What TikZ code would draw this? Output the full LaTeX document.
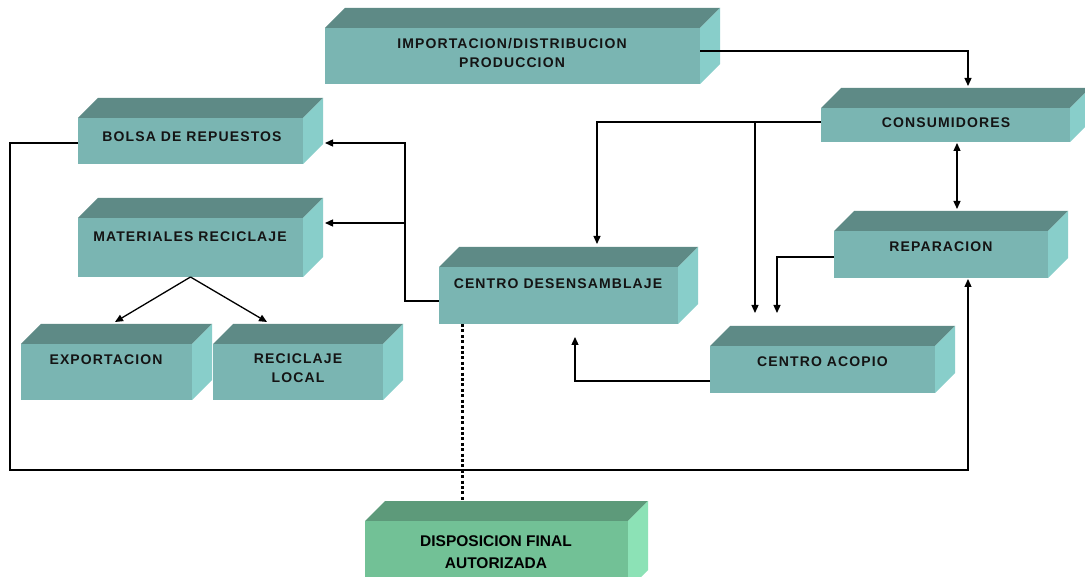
\documentclass[tikz,border=0pt]{standalone}
\usepackage{fontspec}
\setmainfont{Liberation Sans}
\newfontfamily\lblfont[LetterSpace=8]{Liberation Sans}
\usetikzlibrary{arrows.meta}
\definecolor{fr}{RGB}{122,181,178}
\definecolor{tp}{RGB}{94,138,134}
\definecolor{sd}{RGB}{136,206,202}
\definecolor{gfr}{RGB}{114,193,150}
\definecolor{gtp}{RGB}{93,154,122}
\definecolor{gsd}{RGB}{140,226,182}
\newcommand\cubebox[6]{%
  \fill[#6tp] (#2,#3) -- (#2+20,#3-20) -- (#4+20,#3-20) -- (#4,#3) -- cycle;
  \fill[#6sd] (#4,#3) -- (#4+20,#3-20) -- (#4+20,#5-20) -- (#4,#5) -- cycle;
  \pgfmathsetmacro\cw{#4-#2}\pgfmathsetmacro\ch{#5-#3}%
  \node[fill=#6fr, inner sep=0pt, outer sep=0pt, anchor=north west,
        minimum width=\cw pt, minimum height=\ch pt] (#1) at (#2,#3) {};%
}
\tikzset{
  lbl/.style={font=\lblfont\bfseries\fontsize{14}{19}\selectfont, align=center, text=black!92, inner sep=0pt},
  glbl/.style={font=\bfseries\fontsize{15.5}{22}\selectfont, align=center, text=black, inner sep=0pt},
  conn/.style={draw=black, line width=1.3pt},
  arr/.style={conn, -{Triangle[length=8pt,width=7pt]}},
  darr/.style={conn, {Triangle[length=8pt,width=7pt]}-{Triangle[length=8pt,width=7pt]}},
  dotline/.style={draw=black, line width=3pt, dash pattern=on 3pt off 2.4pt}
}
\begin{document}
\begin{tikzpicture}[x=1pt, y=-1pt]
\useasboundingbox (0,0) rectangle (1085,577);
\fill[white] (0,0) rectangle (1085,577);
\clip (0,0) rectangle (1085,577);
% boxes
\cubebox{imp}{325}{28}{700}{84}{}
\cubebox{bol}{78}{118}{303}{164}{}
\cubebox{mat}{78}{218}{303}{277}{}
\cubebox{exp}{21}{344}{192}{400}{}
\cubebox{rec}{213}{344}{383}{400}{}
\cubebox{des}{439}{267}{678}{324}{}
\cubebox{cons}{821}{108}{1070}{142}{}
\cubebox{rep}{834}{231}{1048}{278}{}
\cubebox{aco}{710}{346}{935}{393}{}
\cubebox{dis}{365}{521}{628}{590}{g}
% labels
\node[lbl] (imp-t) at (512,52.5) {IMPORTACION/DISTRIBUCION\\PRODUCCION};
\node[lbl] (bol-t) at (192,137) {BOLSA DE REPUESTOS};
\node[lbl] (mat-t) at (190,237) {MATERIALES RECICLAJE};
\node[lbl] (exp-t) at (106,360) {EXPORTACION};
\node[lbl] (rec-t) at (298,368.5) {RECICLAJE\\LOCAL};
\node[lbl] (des-t) at (558,284) {CENTRO DESENSAMBLAJE};
\node[lbl] (cons-t) at (946,123) {CONSUMIDORES};
\node[lbl] (rep-t) at (941,247) {REPARACION};
\node[lbl] (aco-t) at (822.5,362) {CENTRO ACOPIO};
\node[glbl] (dis-t) at (496,552) {DISPOSICION FINAL\\AUTORIZADA};
% free ends
\coordinate (consin) at (968,86);
\coordinate (desin) at (597,244);
\coordinate (br1) at (755,122);
\coordinate (acoin1) at (755,313);
\coordinate (acoin2) at (777,313);
\coordinate (consout) at (957,143);
\coordinate (repin) at (957,209);
\coordinate (desbot) at (575,337);
\coordinate (jn1) at (405,143);
\coordinate (jn2) at (405,223);
\coordinate (bolin) at (325,143);
\coordinate (matin) at (325,223);
\coordinate (lt) at (10,143);
\coordinate (lb) at (10,470);
\coordinate (repbot) at (968,279);
\coordinate (expin) at (115,322);
\coordinate (recin) at (267,322);
\coordinate (dtop) at (462,324);
\coordinate (dbot) at (462,501);
% connectors
\draw[arr] (imp.east |- 0,51) -| (consin);
\draw[arr] (cons.west |- 0,122) -| (desin);
\draw[arr] (br1) -- (acoin1);
\draw[arr] (rep.west |- 0,257) -| (acoin2);
\draw[darr] (consout) -- (repin);
\draw[arr] (aco.west |- 0,381) -| (desbot);
\draw[arr] (des.west |- 0,301) -| (jn1) -- (bolin);
\draw[arr] (jn2) -- (matin);
\draw[arr] (bol.west |- 0,143) -- (lt) -- (lb) -| (repbot);
\draw[arr] (mat.south) -- (expin);
\draw[arr] (mat.south) -- (recin);
\draw[dotline] (dtop) -- (dbot);
\end{tikzpicture}
\end{document}
